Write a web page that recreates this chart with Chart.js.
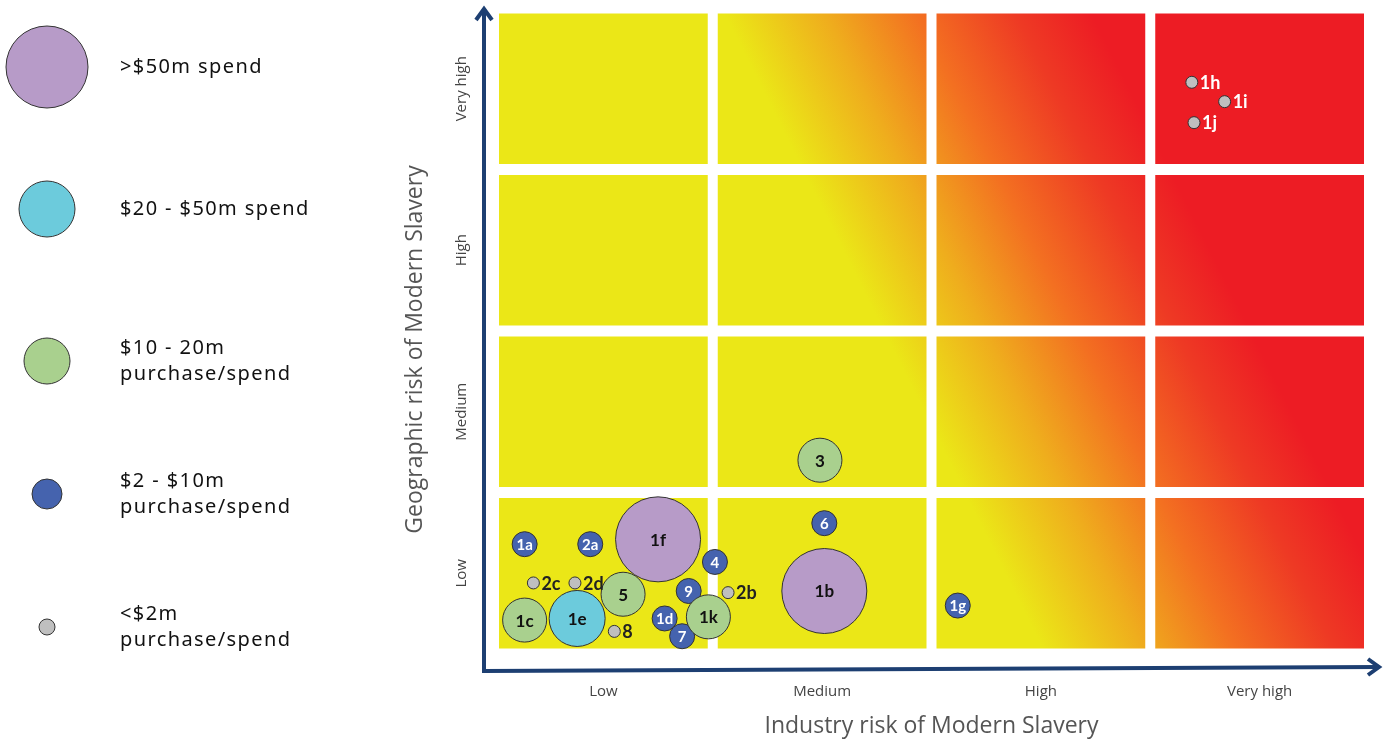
<!DOCTYPE html>
<html>
<head>
<meta charset="utf-8">
<script src="https://cdn.jsdelivr.net/npm/chart.js@4.4.1/dist/chart.umd.min.js"></script>
<style>
  html, body { margin: 0; padding: 0; background: #ffffff; }
  #wrap { width: 1383px; height: 742px; position: relative; }
</style>
</head>
<body>
<div id="wrap"><canvas id="riskChart" width="1383" height="742"></canvas></div>
<script>
// Risk bands used on both axes
const riskLevels = ['Low', 'Medium', 'High', 'Very high'];
const xAxisTitle = 'Industry risk of Modern Slavery';
const yAxisTitle = 'Geographic risk of Modern Slavery';

// Supplier categories: label, industry risk (x), geographic risk (y), spend tier
const pointLabels   = ['1a', '2a', '1f', '4', '2c', '2d', '5', '9', '2b', '1c', '1e', '8', '1d', '7', '1k', '6', '1b', '3', '1g', '1h', '1i', '1j'];
const industryRisk  = [0.14, 0.44, 0.75, 1.01, 0.18, 0.37, 0.59, 0.89, 1.07, 0.14, 0.38, 0.55, 0.78, 0.86, 0.98, 1.51, 1.51, 1.49, 2.12, 3.19, 3.34, 3.20];
const geographicRisk = [0.68, 0.68, 0.71, 0.57, 0.44, 0.44, 0.37, 0.39, 0.38, 0.21, 0.22, 0.14, 0.22, 0.11, 0.23, 0.81, 0.39, 1.20, 0.30, 3.54, 3.42, 3.29];
const spendTier     = [3, 3, 0, 3, 4, 4, 2, 3, 4, 2, 1, 4, 3, 3, 2, 3, 0, 2, 3, 4, 4, 4];

// Spend tiers (legend)
const tierNames = [
  ['>$50m spend'],
  ['$20 - $50m spend'],
  ['$10 - 20m', 'purchase/spend'],
  ['$2 - $10m', 'purchase/spend'],
  ['<$2m', 'purchase/spend']
];

// Styling per tier
const tierColors   = ['#b79bc8', '#6ccbdc', '#a9d08e', '#4563ae', '#bfbfbf'];
const tierRadius   = [42.5, 28, 22, 12.5, 6];
const legendRadius = [41, 28, 23, 15, 8];
const legendY      = [67, 209, 361, 494, 627];

const TITLE_FONT = "'Open Sans', 'Noto Sans', sans-serif";
const LABEL_FONT = "Lato, 'Open Sans', sans-serif";

// Heat gradient: risk score s = industry + 0.37 * geographic
const GEO_WEIGHT = 0.37;
const S_MAX = 5.5;
const heatStops = [
  [0, '#ebe717'], [2.52, '#ebe717'], [2.98, '#efad1d'], [3.4, '#f37021'],
  [3.85, '#ee3a24'], [4.2, '#ed1c24'], [5.5, '#ed1c24']
];

const datasets = tierNames.map((name, t) => ({
  label: name.join(' '),
  backgroundColor: tierColors[t],
  borderColor: '#333333',
  borderWidth: 1,
  data: pointLabels
    .map((lbl, i) => ({ x: industryRisk[i], y: geographicRisk[i], r: tierRadius[t], tier: spendTier[i], name: lbl }))
    .filter(p => p.tier === t)
}));

// Draws the 4x4 heat cells and the two axis arrows
const heatGrid = {
  id: 'heatGrid',
  beforeDatasetsDraw(chart) {
    const { ctx, chartArea, scales: { x, y } } = chart;
    const x0 = x.getPixelForValue(0), y0 = y.getPixelForValue(0);
    const gx = 1 / (x.getPixelForValue(1) - x0);
    const gy = -GEO_WEIGHT / (y0 - y.getPixelForValue(1));
    const k = S_MAX / (gx * gx + gy * gy);
    const grad = ctx.createLinearGradient(x0, y0, x0 + gx * k, y0 + gy * k);
    heatStops.forEach(([s, c]) => grad.addColorStop(s / S_MAX, c));

    ctx.save();
    ctx.fillStyle = grad;
    for (let i = 0; i < riskLevels.length; i++) {
      for (let j = 0; j < riskLevels.length; j++) {
        const l = x.getPixelForValue(i) + 5, r = x.getPixelForValue(i + 1) - 5;
        const t = y.getPixelForValue(j + 1) + 5.5, b = y.getPixelForValue(j) - 5.5;
        ctx.fillRect(l, t, r - l, b - t);
      }
    }

    // axis arrows
    const ax = chartArea.left - 10;
    const ay = chartArea.bottom + 17;
    ctx.strokeStyle = '#1d3f72';
    ctx.lineWidth = 4;
    ctx.lineCap = 'butt';
    ctx.lineJoin = 'miter';
    ctx.beginPath();
    ctx.moveTo(ax, chartArea.top + 1);
    ctx.lineTo(ax, ay);
    ctx.lineTo(chartArea.right + 10, ay - 4);
    ctx.stroke();
    ctx.beginPath();
    ctx.moveTo(ax - 8, chartArea.top + 12);
    ctx.lineTo(ax, chartArea.top + 1);
    ctx.lineTo(ax + 8, chartArea.top + 12);
    ctx.stroke();
    const tx = chartArea.right + 10, ty = ay - 4;
    ctx.beginPath();
    ctx.moveTo(tx - 11, ty - 8);
    ctx.lineTo(tx, ty);
    ctx.lineTo(tx - 11, ty + 8);
    ctx.stroke();

    // vertical axis title, centred on the arrow
    ctx.translate(415, (chartArea.top + ay) / 2 + 10);
    ctx.rotate(-Math.PI / 2);
    ctx.fillStyle = '#555555';
    ctx.font = `23px ${TITLE_FONT}`;
    ctx.textAlign = 'center';
    ctx.textBaseline = 'middle';
    ctx.fillText(yAxisTitle, 0, 0);
    ctx.restore();
  }
};

// Writes each category code on or beside its bubble
const bubbleLabels = {
  id: 'bubbleLabels',
  afterDatasetsDraw(chart) {
    const { ctx } = chart;
    ctx.save();
    chart.data.datasets.forEach((ds, di) => {
      const meta = chart.getDatasetMeta(di);
      meta.data.forEach((el, i) => {
        const p = ds.data[i];
        const t = p.tier;
        if (t === 4) {
          const s = p.x + GEO_WEIGHT * p.y;
          ctx.fillStyle = s > 3.6 ? '#ffffff' : '#222222';
          ctx.font = `bold 18px ${LABEL_FONT}`;
          ctx.textAlign = 'left';
          ctx.textBaseline = 'middle';
          ctx.fillText(p.name, el.x + tierRadius[t] + 2, el.y + 1);
        } else {
          ctx.fillStyle = t === 3 ? '#ffffff' : '#111111';
          ctx.font = `bold ${t === 3 ? 15 : 17}px ${LABEL_FONT}`;
          ctx.textAlign = 'center';
          ctx.textBaseline = 'middle';
          ctx.fillText(p.name, el.x, el.y + 1);
        }
      });
    });
    ctx.restore();
  }
};

// Spend tier key on the left
const spendKey = {
  id: 'spendKey',
  afterDraw(chart) {
    const { ctx } = chart;
    ctx.save();
    tierNames.forEach((lines, t) => {
      const cy = legendY[t];
      ctx.beginPath();
      ctx.arc(47, cy, legendRadius[t], 0, Math.PI * 2);
      ctx.fillStyle = tierColors[t];
      ctx.fill();
      ctx.lineWidth = 1;
      ctx.strokeStyle = '#333333';
      ctx.stroke();
      ctx.fillStyle = '#111111';
      ctx.font = "20px 'Noto Sans', sans-serif";
      ctx.letterSpacing = '1.4px';
      ctx.textAlign = 'left';
      ctx.textBaseline = 'middle';
      const lh = 26;
      const start = cy - (lines.length - 1) * lh / 2;
      lines.forEach((ln, k) => ctx.fillText(ln, 120, start + k * lh));
    });
    ctx.restore();
  }
};

const centerTicks = scale => {
  scale.ticks = riskLevels.map((_, i) => ({ value: i + 0.5 }));
};
const noLabelPadding = scale => {
  scale.paddingLeft = scale.paddingRight = scale.paddingTop = scale.paddingBottom = 0;
};

new Chart(document.getElementById('riskChart'), {
  type: 'bubble',
  data: { datasets },
  options: {
    responsive: false,
    animation: false,
    events: [],
    layout: { autoPadding: false, padding: { left: 380, right: 14, top: 8, bottom: 2 } },
    plugins: { legend: { display: false }, tooltip: { enabled: false } },
    scales: {
      x: {
        type: 'linear', min: 0, max: 4,
        grid: { display: false, drawTicks: false },
        border: { display: false },
        afterBuildTicks: centerTicks,
        afterFit: s => { s.height = 86; noLabelPadding(s); },
        ticks: {
          padding: 29,
          color: '#444444',
          font: { family: TITLE_FONT, size: 15 },
          callback: v => riskLevels[Math.floor(v)]
        },
        title: {
          display: true,
          text: xAxisTitle,
          color: '#555555',
          font: { family: TITLE_FONT, size: 23 },
          padding: { top: 0, bottom: 0 }
        }
      },
      y: {
        type: 'linear', min: 0, max: 4,
        grid: { display: false, drawTicks: false },
        border: { display: false },
        afterBuildTicks: centerTicks,
        afterFit: s => { s.width = 114; noLabelPadding(s); },
        ticks: {
          padding: 0,
          minRotation: 90, maxRotation: 90,
          crossAlign: 'center',
          color: '#444444',
          font: { family: TITLE_FONT, size: 15 },
          callback: v => riskLevels[Math.floor(v)]
        },
        title: { display: false }
      }
    }
  },
  plugins: [heatGrid, bubbleLabels, spendKey]
});
</script>
</body>
</html>
